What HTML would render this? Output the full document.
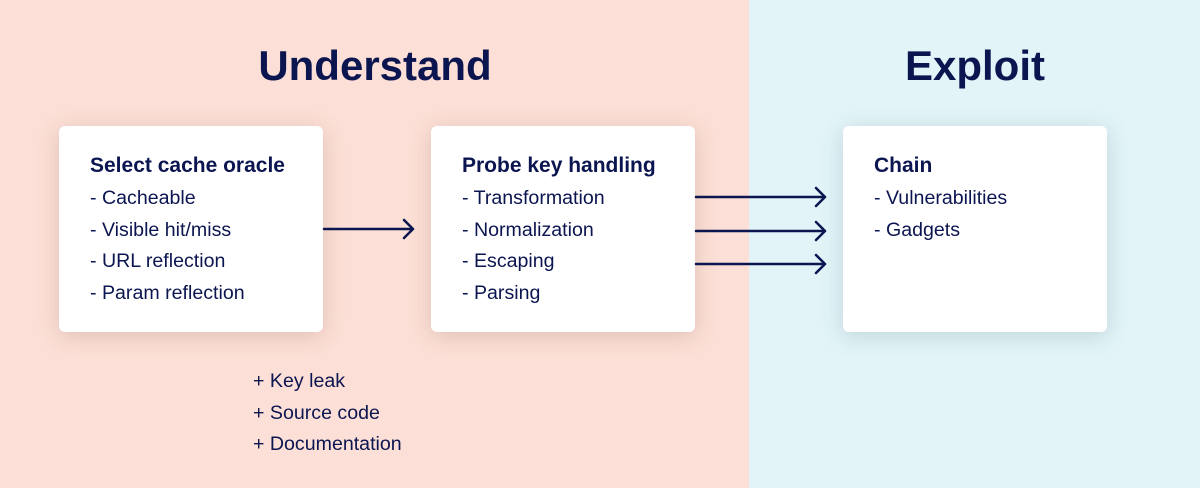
<!DOCTYPE html>
<html><head><style>
body{margin:0;width:1200px;height:488px;position:relative;overflow:hidden;font-family:"Liberation Sans",Arial,sans-serif;color:#0b1550}
.l{position:absolute;left:0;top:0;width:749px;height:488px;background:#fcdfd6}
.r{position:absolute;left:749px;top:0;width:451px;height:488px;background:#e2f4f8}
.h{position:absolute;top:39px;font-weight:bold;font-size:42px;line-height:54px;text-align:center}
.box{position:absolute;top:126px;width:264px;height:206px;background:#fff;border-radius:6px;box-shadow:0 4px 22px rgba(120,80,70,.22)}
.t{position:absolute;left:31px;font-size:19.6px;line-height:20px;white-space:nowrap}
.t b{font-size:21px}
.ex{position:absolute;left:253px;font-size:19.6px;line-height:20px}
</style></head><body>
<div class="l"></div><div class="r"></div>
<div class="h" style="left:200px;width:350px">Understand</div>
<div class="h" style="left:825px;width:300px">Exploit</div>
<div class="box" style="left:59px">
<div class="t" style="top:30px"><b>Select cache oracle</b></div>
<div class="t" style="top:62px">- Cacheable</div>
<div class="t" style="top:94px">- Visible hit/miss</div>
<div class="t" style="top:125px">- URL reflection</div>
<div class="t" style="top:157px">- Param reflection</div>
</div>
<div class="box" style="left:431px">
<div class="t" style="top:30px"><b>Probe key handling</b></div>
<div class="t" style="top:62px">- Transformation</div>
<div class="t" style="top:94px">- Normalization</div>
<div class="t" style="top:125px">- Escaping</div>
<div class="t" style="top:157px">- Parsing</div>
</div>
<div class="box" style="left:843px;box-shadow:0 4px 22px rgba(70,110,120,.22)">
<div class="t" style="top:30px"><b>Chain</b></div>
<div class="t" style="top:62px">- Vulnerabilities</div>
<div class="t" style="top:94px">- Gadgets</div>
</div>
<div class="ex" style="top:371px">+ Key leak</div>
<div class="ex" style="top:403px">+ Source code</div>
<div class="ex" style="top:434px">+ Documentation</div>
<svg width="1200" height="488" style="position:absolute;left:0;top:0" fill="none" stroke="#0b1550" stroke-width="2.5" stroke-linecap="round" stroke-linejoin="round">
<path d="M324 229H413M404 220L413 229L404 238"/>
<path d="M696 197H825M816 188L825 197L816 206"/>
<path d="M696 231H825M816 222L825 231L816 240"/>
<path d="M696 264H825M816 255L825 264L816 273"/>
</svg>
</body></html>
